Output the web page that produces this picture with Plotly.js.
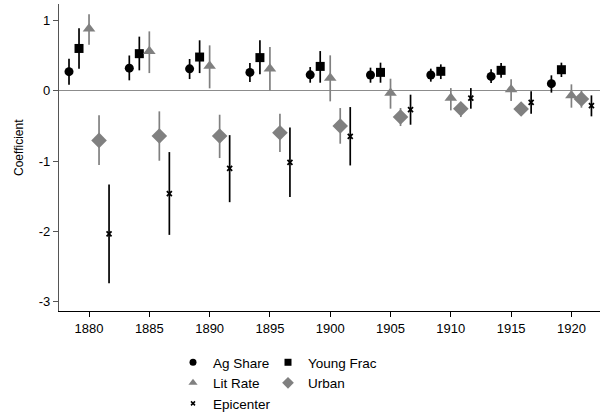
<!DOCTYPE html>
<html><head><meta charset="utf-8">
<script src="https://cdn.plot.ly/plotly-3.0.1.min.js"></script>
<style>html,body{margin:0;padding:0;background:#fff}#chart{width:600px;height:419px}</style>
</head><body><div id="chart"></div>
<script>
const years = [1880, 1885, 1890, 1895, 1900, 1905, 1910, 1915, 1920];

const agShare    = [0.27, 0.32, 0.31, 0.26, 0.225, 0.222, 0.222, 0.203, 0.10];
const agShareLo  = [0.085, 0.147, 0.165, 0.123, 0.113, 0.113, 0.128, 0.108, -0.028];
const agShareHi  = [0.455, 0.50, 0.45, 0.393, 0.336, 0.327, 0.313, 0.303, 0.218];

const youngFrac   = [0.60, 0.526, 0.478, 0.47, 0.345, 0.26, 0.275, 0.289, 0.298];
const youngFracLo = [0.31, 0.289, 0.25, 0.232, 0.113, 0.113, 0.165, 0.185, 0.194];
const youngFracHi = [0.886, 0.768, 0.716, 0.716, 0.563, 0.398, 0.374, 0.393, 0.398];

const litRate   = [0.88, 0.56, 0.35, 0.313, 0.18, -0.033, -0.105, 0.018, -0.067];
const litRateLo = [0.654, 0.25, 0.033, 0.004, -0.152, -0.256, -0.28, -0.148, -0.242];
const litRateHi = [1.085, 0.843, 0.644, 0.62, 0.502, 0.17, 0.037, 0.161, 0.09];

const urban   = [-0.707, -0.645, -0.645, -0.598, -0.503, -0.375, -0.256, -0.261, -0.119];
const urbanLo = [-1.058, -0.996, -0.958, -0.873, -0.754, -0.503, -0.375, -0.351, -0.242];
const urbanHi = [-0.35, -0.294, -0.342, -0.327, -0.247, -0.247, -0.162, -0.185, 0.004];

const epicenter   = [-2.035, -1.465, -1.105, -1.02, -0.65, -0.27, -0.105, -0.166, -0.213];
const epicenterLo = [-2.737, -2.05, -1.585, -1.513, -1.063, -0.484, -0.256, -0.327, -0.365];
const epicenterHi = [-1.335, -0.873, -0.632, -0.522, -0.233, -0.057, 0.037, -0.01, -0.067];

const yTicks = [-3, -2, -1, 0, 1];
const yTickText = ["-3", "-2", "-1", "0", "1"];
const xTicks = [1880, 1885, 1890, 1895, 1900, 1905, 1910, 1915, 1920];

const GRAY = '#808080';
const FONT = 'Liberation Sans, Arial, sans-serif';

function series(name, vals, lo, hi, offset, symbol, size, color) {
  return {
    type: 'scatter', mode: 'markers', name: name, showlegend: false,
    x: years.map(y => y + offset), y: vals,
    marker: {symbol: symbol, size: size, color: color, line: {width: 0}},
    error_y: {type: 'data', symmetric: false,
      array: hi.map((h, i) => h - vals[i]),
      arrayminus: vals.map((v, i) => v - lo[i]),
      width: 0, thickness: 1.7, color: color},
    hoverinfo: 'skip'
  };
}
function legendItem(name, symbol, size, color, legend, lineW) {
  return {type: 'scatter', mode: 'markers', name: name, x: [null], y: [null], legend: legend,
    marker: {symbol: symbol, size: size, color: color, line: {width: lineW || 0, color: color}},
    hoverinfo: 'skip'};
}

const traces = [
  series('Ag Share', agShare, agShareLo, agShareHi, -1.66, 'circle', 9, '#000'),
  series('Young Frac', youngFrac, youngFracLo, youngFracHi, -0.83, 'square', 9, '#000'),
  series('Lit Rate', litRate, litRateLo, litRateHi, 0, 'triangle-up', 11, GRAY),
  series('Urban', urban, urbanLo, urbanHi, 0.83, 'diamond', 12, GRAY),
  series('Epicenter', epicenter, epicenterLo, epicenterHi, 1.66, 'x-thin-open', 5, '#000'),
  legendItem('Ag Share', 'circle', 7, '#000', 'legend'),
  legendItem('Lit Rate', 'triangle-up', 8, GRAY, 'legend'),
  legendItem('Epicenter', 'x-thin-open', 4, '#000', 'legend', 1.5),
  legendItem('Young Frac', 'square', 7, '#000', 'legend2'),
  legendItem('Urban', 'diamond', 9, GRAY, 'legend2')
];
traces[4].marker.line = {width: 1.8, color: '#000'};

const legendCommon = {orientation: 'v', xanchor: 'left', yanchor: 'top', yref: 'container', xref: 'container',
  font: {family: FONT, size: 13.5, color: '#000'}, bgcolor: 'rgba(0,0,0,0)', itemsizing: 'trace', tracegroupgap: 0};

const layout = {
  width: 600, height: 419,
  margin: {l: 59, r: 0, t: 4, b: 108, autoexpand: false},
  paper_bgcolor: '#fff', plot_bgcolor: '#fff',
  font: {family: FONT, size: 13, color: '#000'},
  showlegend: true,
  legend: Object.assign({}, legendCommon, {x: 173/600, y: 1 - 347/419}),
  legend2: Object.assign({}, legendCommon, {x: 268/600, y: 1 - 347/419}),
  xaxis: {range: [1877.51, 1922.37], tickvals: xTicks, ticks: 'outside', ticklen: 5, tickcolor: '#000',
    showline: true, linecolor: '#000', linewidth: 1.2, showgrid: false, zeroline: false,
    tickfont: {family: FONT, size: 13}},
  yaxis: {range: [-3.132, 1.232], tickvals: yTicks, ticktext: yTickText, ticks: 'outside', ticklen: 5,
    tickcolor: '#555', showline: true, linecolor: '#555', linewidth: 1.2, showgrid: false,
    zeroline: true, zerolinecolor: '#8c8c8c', zerolinewidth: 1.3,
    tickfont: {family: FONT, size: 13}},
  annotations: [{text: 'Coefficient', xref: 'paper', yref: 'paper', x: (19 - 59) / 541, y: 0.531,
    xanchor: 'center', yanchor: 'middle', textangle: -90, showarrow: false,
    font: {family: FONT, size: 12, color: '#000'}}]
};

Plotly.newPlot('chart', traces, layout, {staticPlot: true});
</script></body></html>
